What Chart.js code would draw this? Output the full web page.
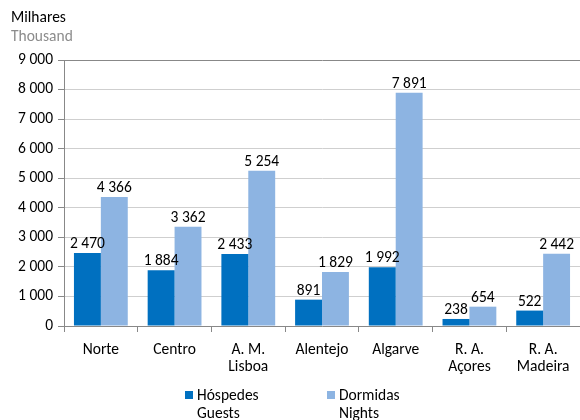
<!DOCTYPE html>
<html>
<head>
<meta charset="utf-8">
<script src="https://cdn.jsdelivr.net/npm/chart.js@4"></script>
<style>
  html, body { margin: 0; padding: 0; background: #fff; }
  #wrap { position: relative; width: 580px; height: 420px; font-family: Carlito, Lato, "Open Sans", sans-serif; }
  #wrap canvas { position: absolute; left: 0; top: 0; }
  .unit { position: absolute; left: 11px; font-size: 15.5px; line-height: 19px; }
  .leg { position: absolute; top: 386px; font-size: 15.5px; line-height: 18px; color: #000; }
  .leg i { position: absolute; left: -12px; top: 5px; width: 8px; height: 8px; }
</style>
</head>
<body>
<div id="wrap">
  <canvas id="chart" width="580" height="420"></canvas>
  <div class="unit" style="top:7px;color:#000">Milhares</div>
  <div class="unit" style="top:26px;color:#8c8c8c">Thousand</div>
  <div class="leg" style="left:197px"><i style="background:#0070c0"></i>Hóspedes<br>Guests</div>
  <div class="leg" style="left:339px"><i style="background:#8db4e2"></i>Dormidas<br>Nights</div>
</div>
<script>
// regiões e valores (milhares)
const regions = [['Norte'], ['Centro'], ['A. M.', 'Lisboa'], ['Alentejo'], ['Algarve'], ['R. A.', 'Açores'], ['R. A.', 'Madeira']];
const hospedes = [2470, 1884, 2433, 891, 1992, 238, 522];
const dormidas = [4366, 3362, 5254, 1829, 7891, 654, 2442];
const yTicks = [0, 1000, 2000, 3000, 4000, 5000, 6000, 7000, 8000, 9000];

const FONT = 'Carlito, Lato, "Open Sans", sans-serif';
const SIZE = 15.5;

// número com espaço como separador de milhares
function fmt(v) {
  return String(v).replace(/\B(?=(\d{3})+(?!\d))/g, ' ');
}

// rótulos de valor por cima das barras
const valueLabels = {
  id: 'valueLabels',
  afterDatasetsDraw(chart) {
    const ctx = chart.ctx;
    ctx.save();
    ctx.font = SIZE + 'px ' + FONT;
    ctx.fillStyle = '#000';
    ctx.textAlign = 'center';
    ctx.textBaseline = 'bottom';
    chart.data.datasets.forEach((ds, i) => {
      chart.getDatasetMeta(i).data.forEach((bar, j) => {
        ctx.fillText(fmt(ds.data[j]), bar.x, bar.y - 1);
      });
    });
    ctx.restore();
  }
};

new Chart(document.getElementById('chart'), {
  type: 'bar',
  data: {
    labels: regions,
    datasets: [
      { label: 'Hóspedes', data: hospedes, backgroundColor: '#0070c0' },
      { label: 'Dormidas', data: dormidas, backgroundColor: '#8db4e2' }
    ]
  },
  options: {
    responsive: false,
    animation: false,
    layout: { padding: { top: 60, right: 0, bottom: 0, left: 0 } },
    datasets: { bar: { categoryPercentage: 0.73, barPercentage: 1 } },
    plugins: { legend: { display: false }, tooltip: { enabled: false } },
    scales: {
      x: {
        afterFit: s => { s.height = 94; },
        border: { color: '#888888' },
        grid: { offset: true, drawOnChartArea: false, tickLength: 6, color: '#888888' },
        ticks: { color: '#000', padding: 10, font: { family: FONT, size: SIZE, lineHeight: 1.1 } }
      },
      y: {
        min: 0,
        max: 9000,
        afterFit: s => { s.width = 64; },
        afterBuildTicks: s => { s.ticks = yTicks.map(v => ({ value: v })); },
        border: { color: '#888888' },
        grid: {
          tickLength: 6,
          tickColor: '#888888',
          color: c => c.tick && c.tick.value === 9000 ? '#888888' : '#cfcfcf'
        },
        ticks: { color: '#000', padding: 5, callback: v => fmt(v), font: { family: FONT, size: SIZE } }
      }
    }
  },
  plugins: [valueLabels]
});
</script>
</body>
</html>
